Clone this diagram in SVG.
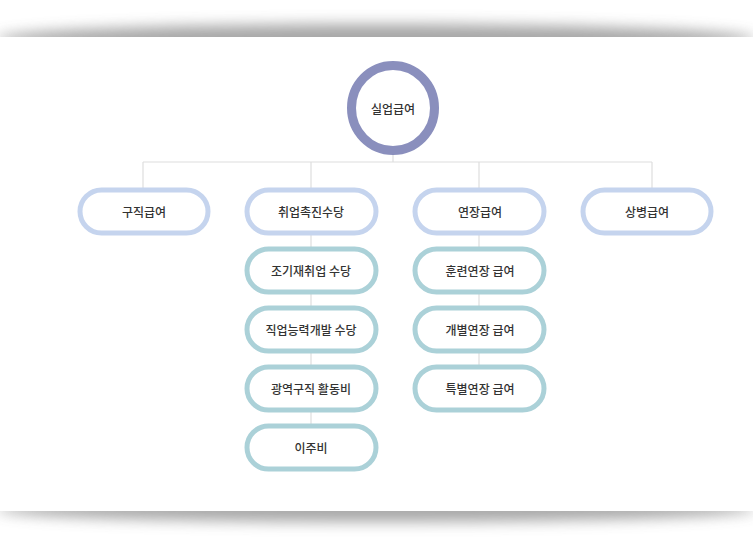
<svg xmlns="http://www.w3.org/2000/svg" width="753" height="550" viewBox="0 0 753 550">
<defs>
<filter id="b" x="-20%" y="-200%" width="140%" height="500%"><feGaussianBlur stdDeviation="7"/></filter>
<style>
.l1{fill:#fff;stroke:#c5d4ee;stroke-width:5}
.l2{fill:#fff;stroke:#abd1d8;stroke-width:5}
text{font-family:"Noto Sans CJK KR",sans-serif;font-size:12px;fill:#333;text-anchor:middle;dominant-baseline:central;font-weight:500}
.c{stroke:#dedede;stroke-width:1.2;fill:none}
</style>
</defs>
<rect width="753" height="550" fill="#fff"/>
<ellipse cx="376" cy="39" rx="380" ry="15" fill="#999" opacity="0.85" filter="url(#b)"/>
<ellipse cx="376" cy="509" rx="380" ry="13" fill="#999" opacity="0.85" filter="url(#b)"/>
<rect x="0" y="37" width="753" height="474" fill="#fff"/>
<g id="connectors">
<path class="c" d="M393 155V162M143 162H652M143 162V188M311 162V188M479 162V188M652 162V188M311 235V424M479 235V365"/>
</g>
<g id="root"><ellipse cx="393" cy="108" rx="41.5" ry="42.5" fill="#fff" stroke="#8a8fbd" stroke-width="9"/><text x="393" y="108">실업급여</text></g>
<g id="n1"><rect class="l1" x="80" y="190" width="128" height="43" rx="21.5"/><text x="144" y="211">구직급여</text></g>
<g id="n2"><rect class="l1" x="247" y="190" width="129" height="43" rx="21.5"/><text x="311" y="211">취업촉진수당</text></g>
<g id="n3"><rect class="l1" x="415" y="190" width="129" height="43" rx="21.5"/><text x="480" y="211">연장급여</text></g>
<g id="n4"><rect class="l1" x="583" y="190" width="128" height="43" rx="21.5"/><text x="647" y="211">상병급여</text></g>
<g id="n21"><rect class="l2" x="247" y="249" width="129" height="43" rx="21.5"/><text x="311" y="270">조기재취업 수당</text></g>
<g id="n22"><rect class="l2" x="247" y="308" width="129" height="43" rx="21.5"/><text x="311" y="329">직업능력개발 수당</text></g>
<g id="n23"><rect class="l2" x="247" y="367" width="129" height="43" rx="21.5"/><text x="311" y="388">광역구직 활동비</text></g>
<g id="n24"><rect class="l2" x="247" y="426" width="129" height="43" rx="21.5"/><text x="311" y="447">이주비</text></g>
<g id="n31"><rect class="l2" x="415" y="249" width="129" height="43" rx="21.5"/><text x="480" y="270">훈련연장 급여</text></g>
<g id="n32"><rect class="l2" x="415" y="308" width="129" height="43" rx="21.5"/><text x="480" y="329">개별연장 급여</text></g>
<g id="n33"><rect class="l2" x="415" y="367" width="129" height="43" rx="21.5"/><text x="480" y="388">특별연장 급여</text></g>
</svg>
